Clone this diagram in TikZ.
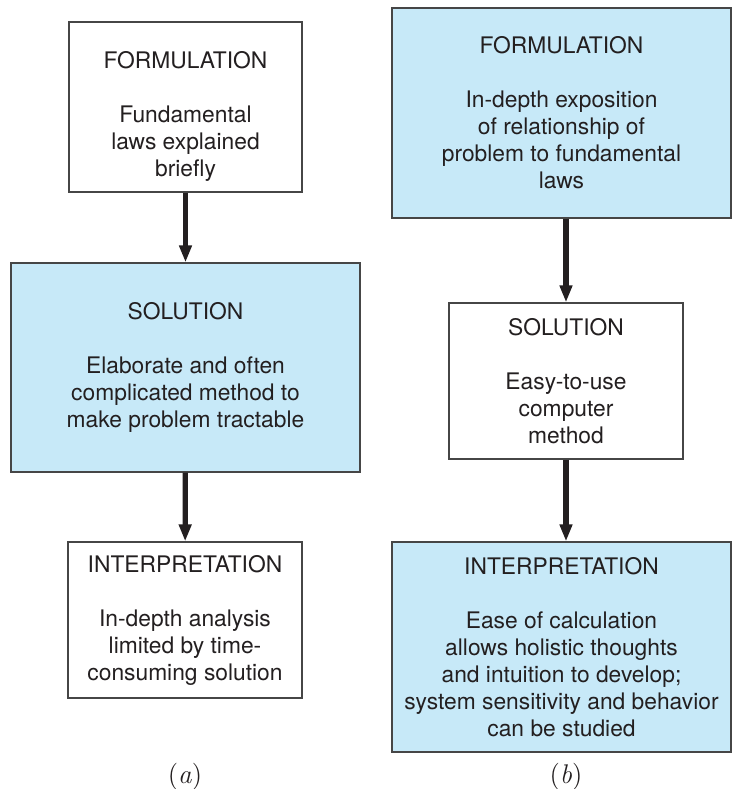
\documentclass[tikz,border=0pt]{standalone}
\usepackage{fontspec}
\newfontfamily\heros{TeX Gyre Heros}
\usepackage{tikz}
\usetikzlibrary{arrows.meta,positioning}

\definecolor{paleblue}{RGB}{199,233,248}
\definecolor{boxline}{RGB}{70,70,70}
\definecolor{ink}{RGB}{35,31,32}

\tikzset{
  box/.style={draw=boxline, line width=0.6pt, fill=white, align=center, inner sep=0pt,
    text=ink, font=\heros\fontsize{11.4}{13.5}\selectfont},
  shaded/.style={box, fill=paleblue},
  flow/.style={draw=ink, line width=2.6pt, -{Triangle[length=8.5pt,width=6pt]}},
  tag/.style={text=ink, font=\fontsize{13.5}{16}\selectfont}
}

\begin{document}
\begin{tikzpicture}[x=0.5pt,y=-0.5pt]
      \useasboundingbox (0,0) rectangle (732,789);

      % (a): conventional approach
      \node[box, minimum width=116.5pt, minimum height=85pt] (form-a) at (185.5,107)
        {\rule{0pt}{18pt}FORMULATION\\[13.5pt]Fundamental\\laws explained\\briefly};
      \node[shaded, minimum width=174.5pt, minimum height=104.5pt] (sol-a) at (185.5,367.5)
        {SOLUTION\\[13.5pt]Elaborate and often\\complicated method to\\make problem tractable};
      \node[box, minimum width=117pt, minimum height=78pt] (int-a) at (185,620)
        {INTERPRETATION\\[13.5pt]In-depth analysis\\limited by time-\\consuming solution};
      \node[tag] (lab-a) at (185,777) {(\textit{a})};

      \draw[flow] (form-a) -- (sol-a);
      \draw[flow] (sol-a) -- (int-a);

      % (b): computer-based approach
      \node[shaded, minimum width=169.5pt, minimum height=105pt] (form-b) at (561.5,113)
        {FORMULATION\\[13.5pt]In-depth exposition\\of relationship of\\problem to fundamental\\laws};
      \node[box, minimum width=117pt, minimum height=78pt] (sol-b) at (566,381)
        {SOLUTION\\[13.5pt]Easy-to-use\\computer\\method};
      \node[shaded, minimum width=169.5pt, minimum height=105pt] (int-b) at (561.5,647)
        {INTERPRETATION\\[13.5pt]Ease of calculation\\allows holistic thoughts\\and intuition to develop;\\system sensitivity and behavior\\can be studied};
      \node[tag] (lab-b) at (566,777) {(\textit{b})};

      \draw[flow] (form-b.south -| sol-b) -- (sol-b);
      \draw[flow] (sol-b) -- (int-b.north -| sol-b);
\end{tikzpicture}
\end{document}
